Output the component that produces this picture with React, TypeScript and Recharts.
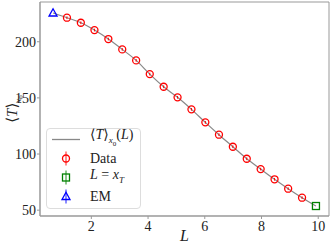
import React from 'react';
import { ComposedChart, Line, Scatter, XAxis, YAxis, ErrorBar, ReferenceArea } from 'recharts';

// EM point (first), measured data, and the L = x_T point (last)
const emL = [0.65];
const emT = [225.6];
const dataL = [1.14, 1.63, 2.11, 2.6, 3.09, 3.58, 4.06, 4.55, 5.04, 5.53, 6.02, 6.5, 6.99, 7.48, 7.97, 8.46, 8.94, 9.43];
const dataT = [221.4, 216.9, 210.4, 202.4, 193.2, 183.4, 171.2, 159.9, 150.5, 139.8, 128.2, 117.2, 106.5, 95.8, 86.6, 77.5, 69.1, 61.1];
const dataErr = [1.2, 1.2, 1.2, 1.2, 1.2, 1.2, 1.2, 1.2, 1.2, 1.2, 1.2, 1.2, 1.2, 1.2, 1.2, 1.2, 1.2, 1.2];
const xtL = [9.92];
const xtT = [53.7];

const xTicks = [2, 4, 6, 8, 10];
const yTicks = [50, 100, 150, 200];
const X_DOMAIN: [number, number] = [0.19, 10.38];
const Y_DOMAIN: [number, number] = [44.8, 235.4];

const W = 332;
const H = 247;
const FONT = '"Liberation Serif", "DejaVu Serif", serif';
const FRAME = '#999';

const dataRows = dataL.map((L, i) => ({ L, T: dataT[i], err: dataErr[i] }));
const emRows = emL.map((L, i) => ({ L, T: emT[i] }));
const xtRows = xtL.map((L, i) => ({ L, T: xtT[i] }));
const curveRows = [...emRows, ...dataRows.map(({ L, T }) => ({ L, T })), ...xtRows];

const circle = (color: string) => (p: any) => (
  <circle cx={p.cx} cy={p.cy} r={3.5} fill="none" stroke={color} strokeWidth={1.3} />
);
const square = (color: string) => (p: any) => (
  <rect x={p.cx - 3.5} y={p.cy - 3.5} width={7} height={7} fill="none" stroke={color} strokeWidth={1.3} />
);
const triangle = (color: string) => (p: any) => (
  <polygon
    points={`${p.cx},${p.cy - 4.2} ${p.cx - 4},${p.cy + 3} ${p.cx + 4},${p.cy + 3}`}
    fill="none"
    stroke={color}
    strokeWidth={1.3}
  />
);

const Handle = ({ kind }: { kind: string }) => {
  const cx = 19;
  const cy = 9.5;
  const color = kind === 'data' ? '#ff0000' : kind === 'xt' ? '#008000' : '#0000ff';
  return (
    <svg width={40} height={19} style={{ display: 'block' }}>
      {kind === 'line' ? (
        <line x1={5} x2={33} y1={cy} y2={cy} stroke="#888" strokeWidth={1.3} />
      ) : (
        <g>
          <line x1={cx} x2={cx} y1={cy - 7} y2={cy + 7} stroke={color} strokeOpacity={0.6} strokeWidth={1.5} />
          {kind === 'data' && circle(color)({ cx, cy })}
          {kind === 'xt' && square(color)({ cx, cy })}
          {kind === 'em' && triangle(color)({ cx, cy })}
        </g>
      )}
    </svg>
  );
};

const legendItems: { kind: string; label: React.ReactNode }[] = [
  {
    kind: 'line',
    label: (
      <span>
        ⟨<i>T</i>⟩<sub style={{ fontSize: 9 }}><i>x</i><sub style={{ fontSize: 7 }}>0</sub></sub>(<i>L</i>)
      </span>
    ),
  },
  { kind: 'data', label: 'Data' },
  {
    kind: 'xt',
    label: (
      <span>
        <i>L</i> = <i>x</i><sub style={{ fontSize: 9 }}><i>T</i></sub>
      </span>
    ),
  },
  { kind: 'em', label: 'EM' },
];

export default function App() {
  return (
    <div style={{ position: 'absolute', left: 0, top: 0, width: W, height: H, fontFamily: FONT, background: '#fff' }}>
      <ComposedChart width={W} height={H} margin={{ top: 2, right: 3, bottom: 0, left: 0 }}>
        <XAxis
          dataKey="L"
          type="number"
          domain={X_DOMAIN}
          ticks={xTicks}
          allowDataOverflow
          stroke={FRAME}
          tickSize={3}
          tick={{ fill: '#222', fontSize: 14, fontFamily: FONT }}
          height={31}
        />
        <YAxis
          dataKey="T"
          type="number"
          domain={Y_DOMAIN}
          ticks={yTicks}
          allowDataOverflow
          stroke={FRAME}
          tickSize={3}
          tickMargin={1}
          tick={{ fill: '#222', fontSize: 14, fontFamily: FONT }}
          width={40}
        />
        <ReferenceArea x1={X_DOMAIN[0]} x2={X_DOMAIN[1]} y1={Y_DOMAIN[0]} y2={Y_DOMAIN[1]} fill="none" stroke={FRAME} />
        <Line
          data={curveRows}
          dataKey="T"
          type="monotone"
          stroke="#888"
          strokeWidth={1.2}
          dot={false}
          isAnimationActive={false}
        />
        <Scatter data={dataRows} dataKey="T" shape={circle('#ff0000')} isAnimationActive={false}>
          <ErrorBar dataKey="err" direction="y" width={0} stroke="#ff0000" strokeWidth={1} />
        </Scatter>
        <Scatter data={xtRows} dataKey="T" shape={square('#008000')} isAnimationActive={false} />
        <Scatter data={emRows} dataKey="T" shape={triangle('#0000ff')} isAnimationActive={false} />
      </ComposedChart>

      <div
        style={{
          position: 'absolute',
          left: 14,
          top: 109,
          transform: 'translate(-50%, -50%) rotate(-90deg)',
          whiteSpace: 'nowrap',
          fontSize: 15,
          color: '#222',
        }}
      >
        ⟨<i>T</i>⟩<sub style={{ fontSize: 9 }}><i>x</i><sub style={{ fontSize: 7 }}>0</sub></sub>
      </div>
      <div style={{ position: 'absolute', left: 180, top: 227, fontSize: 16, fontStyle: 'italic', color: '#222' }}>L</div>

      <div
        style={{
          position: 'absolute',
          left: 46,
          top: 128,
          width: 95,
          height: 81,
          boxSizing: 'border-box',
          border: '1px solid #ddd',
          borderRadius: 4,
          background: 'rgba(255,255,255,0.85)',
          paddingTop: 1,
        }}
      >
        {legendItems.map((it) => (
          <div key={it.kind} style={{ display: 'flex', alignItems: 'center', height: 19, fontSize: 14, color: '#222' }}>
            <Handle kind={it.kind} />
            <div style={{ marginLeft: 3, lineHeight: '19px' }}>{it.label}</div>
          </div>
        ))}
      </div>
    </div>
  );
}
